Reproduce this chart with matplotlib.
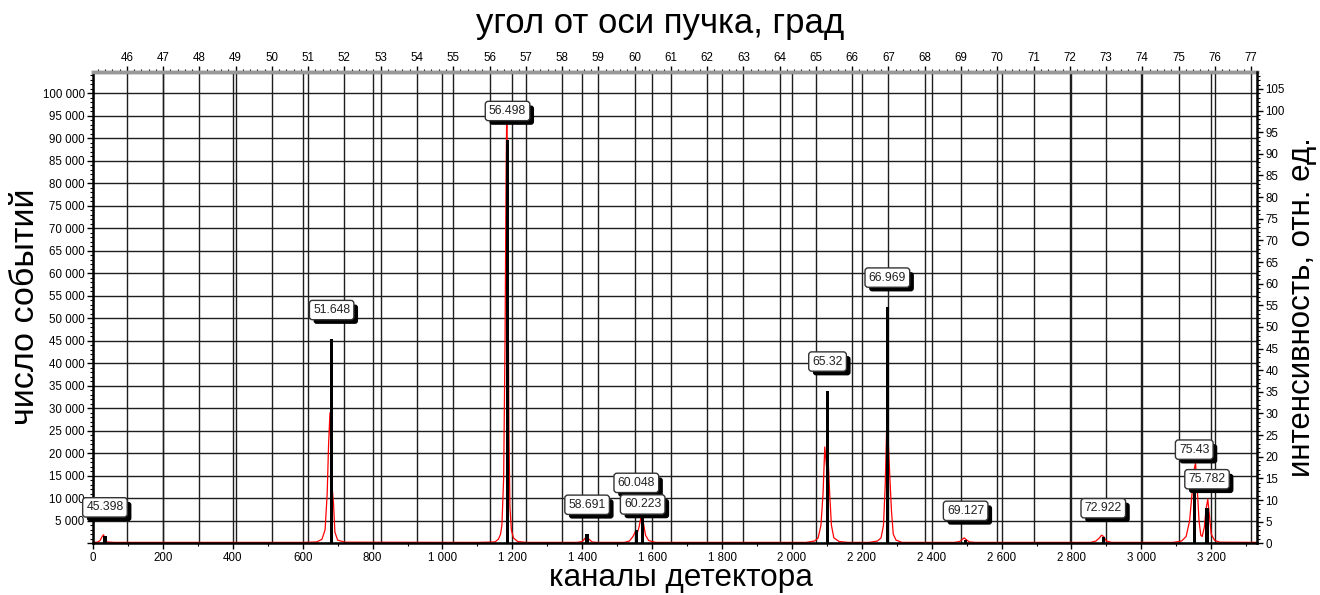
import numpy as np
import matplotlib
matplotlib.use("Agg")
import matplotlib.pyplot as plt
import matplotlib.patheffects as pe
from matplotlib.ticker import FixedLocator, MultipleLocator, FuncFormatter

plt.rcParams['font.family'] = ['Liberation Sans', 'DejaVu Sans']

# measured spectrum (red), channel -> counts
red_ch = [0, 12, 20, 26, 30, 34, 40, 60,
          600, 640, 655, 664, 670, 674, 678, 681, 684, 688, 692, 700, 720,
          1100, 1150, 1160, 1166, 1170, 1175, 1179, 1182, 1184, 1187, 1190, 1193, 1197, 1203, 1215, 1240,
          1385, 1400, 1408, 1413, 1418, 1428, 1440,
          1520, 1535, 1545, 1552, 1558, 1563, 1569, 1575, 1581, 1590, 1610,
          2040, 2065, 2075, 2083, 2089, 2094, 2099, 2104, 2108, 2113, 2120, 2135, 2160,
          2220, 2245, 2255, 2262, 2267, 2272, 2276, 2280, 2285, 2290, 2298, 2315,
          2465, 2480, 2488, 2493, 2499, 2508, 2525,
          2855, 2870, 2880, 2886, 2892, 2900, 2915,
          3090, 3115, 3128, 3138, 3145, 3150, 3155, 3160, 3165, 3170, 3174, 3180, 3185, 3190, 3195,
          3200, 3210, 3225, 3331]
red_cnt = [200, 250, 600, 1500, 1900, 900, 300, 200,
           200, 300, 900, 3000, 11000, 22000, 29000, 20000, 12500, 9000, 2500, 700, 250,
           200, 300, 900, 2000, 4000, 14500, 45000, 82000, 97000, 68000, 25000, 8000, 3000, 1200, 400, 200,
           200, 400, 1100, 1700, 1000, 300, 200,
           200, 500, 1500, 2600, 2400, 3800, 6200, 4500, 1800, 600, 200,
           200, 500, 1200, 4000, 11000, 21400, 17000, 18000, 11000, 4000, 1200, 400, 200,
           200, 500, 1200, 4000, 13000, 28500, 22000, 15000, 7000, 2000, 700, 200,
           200, 400, 900, 1200, 800, 300, 200,
           200, 500, 1200, 1800, 1500, 500, 200,
           200, 500, 1500, 5000, 11000, 16000, 17800, 12000, 5000, 1800, 1500, 3500, 7500, 9800, 6000,
           2000, 600, 250, 200]

# reference lines (black sticks): angle, relative intensity
stick_angle = [45.398, 51.648, 56.498, 58.691, 60.048, 60.223, 65.32, 66.969, 69.127, 72.922, 75.43, 75.782]
stick_int = [1.6, 47.2, 93.2, 2.2, 3.1, 6.2, 35.3, 54.7, 0.8, 1.4, 12.4, 8.1]

# angle scale of the detector
ang0 = 45.07
deg_per_ch = 0.009634


def ch2ang(c):
    return ang0 + np.asarray(c) * deg_per_ch


def ang2ch(a):
    return (np.asarray(a) - ang0) / deg_per_ch


def spaced(v, pos):
    if v == 0:
        return ''
    return f"{int(round(v)):,}".replace(',', ' ')


fig = plt.figure(figsize=(13.2, 5.95), dpi=100)
ax = fig.add_axes([0.0705, 0.0869, 0.8818, 0.792])
ax.set_xlim(0, 3331)
ax.set_ylim(0, 104700)

gcol = '#1e1e1e'
ax.xaxis.set_major_locator(MultipleLocator(200))
ax.xaxis.set_minor_locator(MultipleLocator(100))
ax.xaxis.set_major_formatter(FuncFormatter(lambda v, p: f"{int(round(v)):,}".replace(',', ' ')))
ax.yaxis.set_major_locator(MultipleLocator(5000))
ax.yaxis.set_minor_locator(MultipleLocator(1000))
ax.yaxis.set_major_formatter(FuncFormatter(spaced))
ax.grid(True, which='major', color=gcol, lw=1.0, zorder=0.5)
ax.set_axisbelow(True)

# angle gridlines
for a in range(46, 78):
    ax.axvline(ang2ch(a), color=gcol, lw=1.0, zorder=0.5)

ax.plot(red_ch, red_cnt, color='red', lw=0.9, zorder=2)

ax.tick_params(axis='both', which='major', labelsize=8.3, length=4, width=1, direction='out', pad=2)
ax.tick_params(axis='both', which='minor', length=2.5, width=0.8, direction='out')
ax.tick_params(axis='x', which='both', top=False)
for s in ['left', 'bottom']:
    ax.spines[s].set_linewidth(1.8)
ax.spines['top'].set_color('#999999')
ax.spines['top'].set_linewidth(2.5)

top = ax.secondary_xaxis('top', functions=(ch2ang, ang2ch))
top.xaxis.set_major_locator(FixedLocator(np.arange(46, 78)))
top.xaxis.set_minor_locator(MultipleLocator(0.2))
top.tick_params(which='major', labelsize=8.3, length=4, width=1, pad=2)
top.tick_params(which='minor', length=2.5, width=0.8)
top.spines['top'].set_color('#999999')
top.spines['top'].set_linewidth(2.5)

ax2 = ax.twinx()
ax2.set_ylim(0, 108.9)
ax2.yaxis.set_major_locator(MultipleLocator(5))
ax2.yaxis.set_minor_locator(MultipleLocator(1))
ax2.yaxis.set_major_formatter(FuncFormatter(lambda v, p: f"{int(round(v))}"))
ax2.tick_params(which='major', labelsize=8.3, length=4, width=1, pad=2)
ax2.tick_params(which='minor', length=2.5, width=0.8)
for s in ['left', 'top', 'bottom']:
    ax2.spines[s].set_visible(False)
ax2.spines['right'].set_linewidth(1.8)

stick_ch = ang2ch(stick_angle)
ax2.bar(stick_ch, stick_int, width=10, color='black', zorder=3)

# label boxes above the sticks (pixel offsets), with a solid drop shadow
lift = {60.048: 47, 60.223: 12, 75.43: 40}
for a, c, h in zip(stick_angle, stick_ch, stick_int):
    dy = lift.get(a, 29)
    t = ax2.annotate(f"{a:g}", (c, h), xytext=(0, dy), textcoords='offset pixels',
                     ha='center', va='center', fontsize=8.8, color='#222222', zorder=6,
                     bbox=dict(boxstyle='round,pad=0.3,rounding_size=0.25', fc='white', ec='#333333', lw=1))
    t.get_bbox_patch().set_path_effects([
        pe.SimplePatchShadow(offset=(3, -3), shadow_rgbFace='black', alpha=1.0),
        pe.Normal()])

fig.text(0.5, 0.96, 'угол от оси пучка, град', ha='center', va='center', fontsize=25)
fig.text(0.516, 0.029, 'каналы детектора', ha='center', va='center', fontsize=22.7)
fig.text(0.019, 0.484, 'число событий', ha='center', va='center', rotation=90, fontsize=24.5)
fig.text(0.986, 0.484, 'интенсивность, отн. ед.', ha='center', va='center', rotation=90, fontsize=22.5)

fig.savefig('out.png', dpi=100)
